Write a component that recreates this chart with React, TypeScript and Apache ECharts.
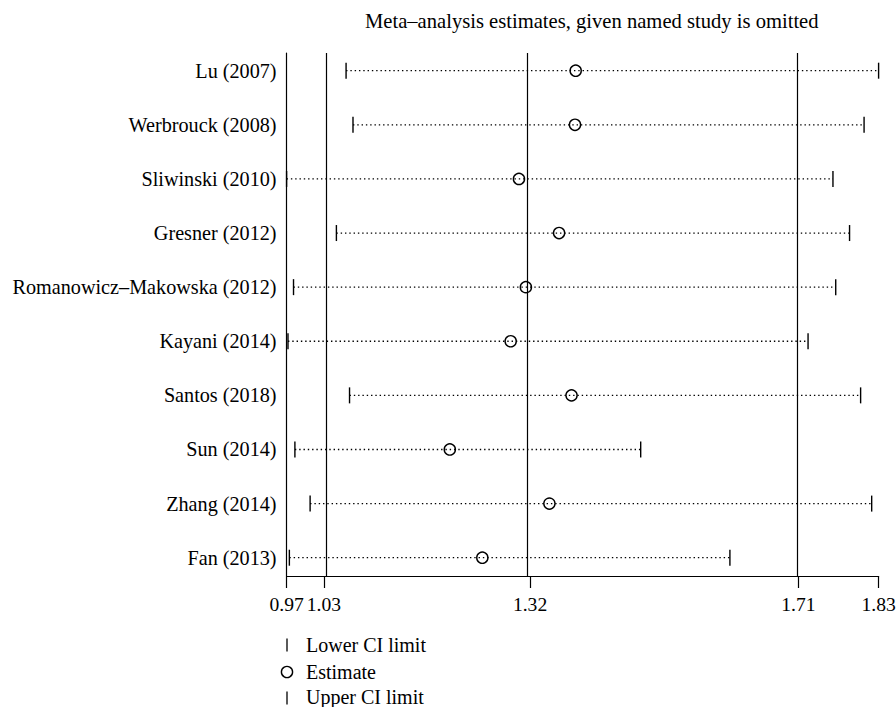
import React, { useEffect, useRef } from "react";
import * as echarts from "echarts";

const studies = [
  "Lu (2007)",
  "Werbrouck (2008)",
  "Sliwinski (2010)",
  "Gresner (2012)",
  "Romanowicz\u2013Makowska (2012)",
  "Kayani (2014)",
  "Santos (2018)",
  "Sun (2014)",
  "Zhang (2014)",
  "Fan (2013)",
];
const lowerCI = [1.058, 1.068, 0.972, 1.044, 0.982, 0.974, 1.063, 0.984, 1.006, 0.976];
const estimates = [1.39, 1.389, 1.308, 1.366, 1.318, 1.296, 1.384, 1.208, 1.352, 1.255];
const upperCI = [1.828, 1.807, 1.762, 1.786, 1.766, 1.726, 1.802, 1.484, 1.818, 1.613];

const overallLower = 1.026;
const overallEstimate = 1.324;
const overallUpper = 1.712;
const axisMin = 0.972;
const axisMax = 1.828;
const xTickValues = [axisMin, overallLower, overallEstimate, overallUpper, axisMax];

const FONT = "'Liberation Serif', 'Times New Roman', serif";

export default function App() {
  const ref = useRef<HTMLDivElement>(null);
  useEffect(() => {
    document.body.style.margin = "0";
    const chart = echarts.init(ref.current!, null, { renderer: "svg" });
    const data = studies.map((_, i) => [i + 1, lowerCI[i], estimates[i], upperCI[i]]);
    chart.setOption({
      animation: false,
      title: {
        text: "Meta\u2013analysis estimates, given named study is omitted",
        left: 360,
        top: 5,
        textStyle: { fontFamily: FONT, fontSize: 20.6, fontWeight: "normal", color: "#000" },
      },
      grid: {
        left: 286.6,
        right: 17.4,
        top: 53,
        bottom: 131,
        containLabel: false,
        outerBoundsMode: "none",
      },
      xAxis: {
        type: "value",
        min: axisMin,
        max: axisMax,
        splitLine: { show: false },
        axisLine: { show: true, onZero: false, lineStyle: { color: "#000", width: 1.2 } },
        axisTick: {
          show: true,
          customValues: xTickValues,
          length: 12,
          lineStyle: { color: "#000", width: 1.2 },
        },
        axisLabel: {
          customValues: xTickValues,
          formatter: (v: number) => v.toFixed(2),
          margin: 18,
          fontFamily: FONT,
          fontSize: 19.6,
          color: "#000",
        },
      },
      yAxis: {
        type: "value",
        inverse: true,
        min: 0.673,
        max: 10.338,
        splitLine: { show: false },
        axisLine: { show: true, onZero: false, lineStyle: { color: "#000", width: 1.2 } },
        axisTick: { show: false },
        axisLabel: {
          customValues: studies.map((_, i) => i + 1),
          formatter: (v: number) => studies[Math.round(v) - 1] ?? "",
          margin: 10,
          fontFamily: FONT,
          fontSize: 20.2,
          color: "#000",
        },
      },
      series: [
        {
          type: "custom",
          data,
          encode: { x: [1, 2, 3], y: 0 },
          clip: false,
          renderItem: (params: any, api: any) => {
            const y = api.value(0);
            const pL = api.coord([api.value(1), y]);
            const pE = api.coord([api.value(2), y]);
            const pU = api.coord([api.value(3), y]);
            return {
              type: "group",
              children: [
                {
                  type: "line",
                  shape: { x1: pL[0], y1: pL[1], x2: pU[0], y2: pU[1] },
                  style: { stroke: "#000", lineWidth: 1.3, lineDash: [1.4, 2.9] },
                },
                {
                  type: "line",
                  shape: { x1: pL[0], y1: pL[1] - 8, x2: pL[0], y2: pL[1] + 8 },
                  style: { stroke: "#000", lineWidth: 1.4 },
                },
                {
                  type: "line",
                  shape: { x1: pU[0], y1: pU[1] - 8, x2: pU[0], y2: pU[1] + 8 },
                  style: { stroke: "#000", lineWidth: 1.4 },
                },
                {
                  type: "circle",
                  shape: { cx: pE[0], cy: pE[1], r: 5.6 },
                  style: { fill: "none", stroke: "#000", lineWidth: 1.4 },
                },
              ],
            };
          },
        },
        {
          type: "line",
          data: [],
          silent: true,
          markLine: {
            silent: true,
            symbol: ["none", "none"],
            label: { show: false },
            lineStyle: { type: "solid", color: "#000", width: 1.2 },
            data: [{ xAxis: overallLower }, { xAxis: overallEstimate }, { xAxis: overallUpper }],
          },
        },
      ],
      graphic: [
        { type: "line", shape: { x1: 287, y1: 638.5, x2: 287, y2: 651.5 }, style: { stroke: "#000", lineWidth: 1.3 } },
        {
          type: "text",
          x: 306,
          y: 645,
          style: { text: "Lower CI limit", fontFamily: FONT, fontSize: 20, fill: "#000", verticalAlign: "middle" },
        },
        { type: "circle", shape: { cx: 287, cy: 672, r: 5.6 }, style: { fill: "none", stroke: "#000", lineWidth: 1.4 } },
        {
          type: "text",
          x: 306,
          y: 672,
          style: { text: "Estimate", fontFamily: FONT, fontSize: 20, fill: "#000", verticalAlign: "middle" },
        },
        { type: "line", shape: { x1: 287, y1: 691.5, x2: 287, y2: 704.5 }, style: { stroke: "#000", lineWidth: 1.3 } },
        {
          type: "text",
          x: 306,
          y: 697,
          style: { text: "Upper CI limit", fontFamily: FONT, fontSize: 20, fill: "#000", verticalAlign: "middle" },
        },
      ],
    });
    return () => chart.dispose();
  }, []);
  return <div ref={ref} style={{ width: 896, height: 707 }} />;
}
